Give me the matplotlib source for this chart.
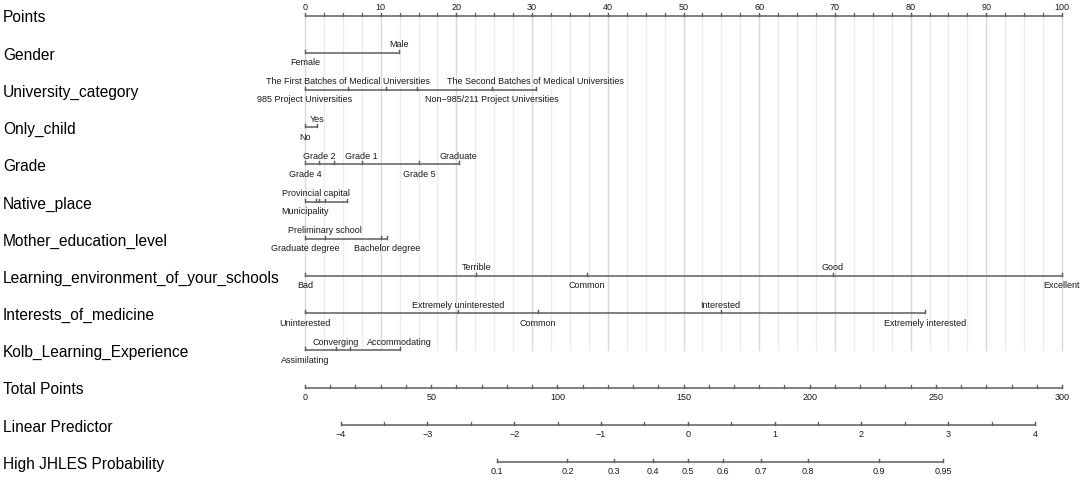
import numpy as np
import matplotlib
matplotlib.use("Agg")
import matplotlib.pyplot as plt

plt.rcParams["font.family"] = ["Liberation Sans", "DejaVu Sans"]

# points scale
points_ticks = np.arange(0, 101, 10)
points_minor = np.arange(0, 100.1, 2.5)

# predictors: level labels (in factor order) and their points
gender_levels = ["Female", "Male"]
gender_points = [0, 12.4]

university_levels = ["985 Project Universities", "The First Batches of Medical Universities", "", "",
                     "Non\u2212985/211 Project Universities", "The Second Batches of Medical Universities"]
university_points = [0, 5.7, 10.7, 14.8, 24.7, 30.5]

only_child_levels = ["No", "Yes"]
only_child_points = [0, 1.6]

grade_levels = ["Grade 4", "Grade 2", "", "Grade 1", "Grade 5", "Graduate"]
grade_points = [0, 1.9, 3.8, 7.5, 15.1, 20.3]

native_levels = ["Municipality", "Provincial capital", "", "", ""]
native_points = [0, 1.4, 1.8, 2.6, 5.6]

mother_levels = ["Graduate degree", "Preliminary school", "Bachelor degree", ""]
mother_points = [0, 2.6, 10.8, 10.1]

learning_levels = ["Bad", "Terrible", "Common", "Good", "Excellent"]
learning_points = [0, 22.6, 37.2, 69.7, 100]

interest_levels = ["Uninterested", "Extremely uninterested", "Common", "Interested", "Extremely interested"]
interest_points = [0, 20.2, 30.8, 54.9, 81.9]

kolb_levels = ["Assimilating", "Converging", "", "Accommodating"]
kolb_points = [0, 4.1, 6.0, 12.5]

# total points / linear predictor / probability
total_ticks = np.arange(0, 301, 50)
total_minor = np.arange(0, 301, 10)
lp_ticks = np.arange(-4, 4.1, 1)
lp_minor = np.arange(-4, 4.1, 0.5)
lp_zero_total = 151.7   # total points where linear predictor = 0
total_per_lp = 34.4     # total points per unit of linear predictor
prob_ticks = [0.1, 0.2, 0.3, 0.4, 0.5, 0.6, 0.7, 0.8, 0.9, 0.95]

predictors = [
    ("Gender", gender_levels, gender_points),
    ("University_category", university_levels, university_points),
    ("Only_child", only_child_levels, only_child_points),
    ("Grade", grade_levels, grade_points),
    ("Native_place", native_levels, native_points),
    ("Mother_education_level", mother_levels, mother_points),
    ("Learning_environment_of_your_schools", learning_levels, learning_points),
    ("Interests_of_medicine", interest_levels, interest_points),
    ("Kolb_Learning_Experience", kolb_levels, kolb_points),
]

W, H = 1084, 481
x0_px, px_per_pt = 305, 7.57
fig = plt.figure(figsize=(W / 100, H / 100), dpi=100)
ax = fig.add_axes([0, 0, 1, 1])
ax.set_xlim(-x0_px / px_per_pt, (W - x0_px) / px_per_pt)
ax.set_ylim(H, 0)
ax.axis("off")

row_y0, row_step = 16.5, 37.2
line_col = "#5e5e5e"
txt_col = "#1a1a1a"
lab_fs = 11.2
tick_fs = 6.5
off = 9
tick_len = 3
label_x = (3 - x0_px) / px_per_pt


def draw_axis(y, xs, labels, minor=None, sides=None):
    xs = np.asarray(xs, dtype=float)
    ax.plot([xs.min(), xs.max()], [y, y], color=line_col, lw=1.1, solid_capstyle="butt")
    allx = xs if minor is None else np.asarray(minor, dtype=float)
    for xv in allx:
        ax.plot([xv, xv], [y, y - tick_len], color=line_col, lw=0.9)
    for xv in xs:
        ax.plot([xv, xv], [y, y - tick_len], color=line_col, lw=0.9)
    for i, (xv, lab) in enumerate(zip(xs, labels)):
        side = sides[i] if sides is not None else 1
        ax.text(xv, y + side * off, lab, ha="center", va="center", fontsize=tick_fs, color=txt_col)


rows = ["Points"] + [p[0] for p in predictors] + ["Total Points", "Linear Predictor", "High JHLES Probability"]
row_ys = [row_y0 + i * row_step for i in range(len(rows))]

# grid
for gx in points_minor:
    major = abs(gx % 10) < 1e-9
    ax.plot([gx, gx], [row_ys[0], row_ys[9]], color="#d9d9d9" if major else "#ededed",
            lw=1.0, zorder=0)

for name, y in zip(rows, row_ys):
    ax.text(label_x, y + 1.5, name, ha="left", va="center", fontsize=lab_fs, color="black")

# Points axis
draw_axis(row_ys[0], points_ticks, [f"{v:g}" for v in points_ticks], minor=points_minor,
          sides=[-1] * len(points_ticks))

for i, (name, levels, pts) in enumerate(predictors):
    sides = [1 if k % 2 == 0 else -1 for k in range(len(levels))]
    draw_axis(row_ys[i + 1], pts, levels, sides=sides)

# Total points
tp_scale = 100 / 300
draw_axis(row_ys[10], total_ticks * tp_scale, [f"{v:g}" for v in total_ticks],
          minor=total_minor * tp_scale)

# Linear predictor
lp_x = (lp_zero_total + lp_ticks * total_per_lp) * tp_scale
lp_minor_x = (lp_zero_total + lp_minor * total_per_lp) * tp_scale
draw_axis(row_ys[11], lp_x, [f"{v:g}".replace("-", "\u2212") for v in lp_ticks], minor=lp_minor_x)

# Probability
pr = np.array(prob_ticks)
pr_x = (lp_zero_total + np.log(pr / (1 - pr)) * total_per_lp) * tp_scale
draw_axis(row_ys[12], pr_x, [f"{v:g}" for v in prob_ticks])

fig.savefig("out.png", dpi=100)
